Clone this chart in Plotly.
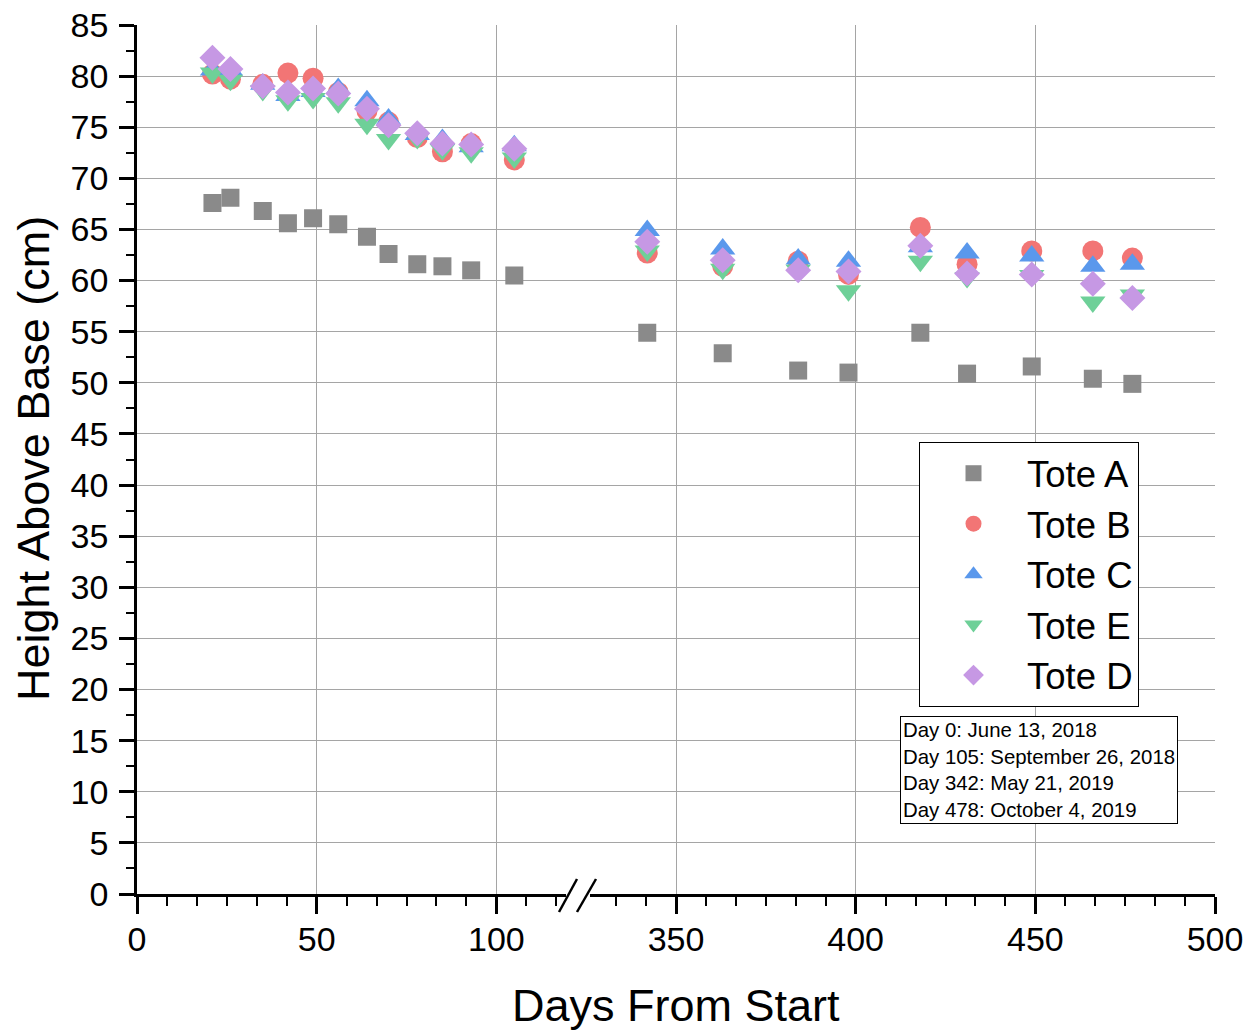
import plotly.graph_objects as go

# Measurement days (axis is broken between the two campaigns)
days_early = [21, 26, 35, 42, 49, 56, 64, 70, 78, 85, 93, 105]
days_late = [342, 363, 384, 398, 418, 431, 449, 466, 477]

# Height above base (cm) for each tote
tote_a_early = [67.6, 68.1, 66.8, 65.6, 66.1, 65.5, 64.3, 62.6, 61.6, 61.4, 61.0, 60.5]
tote_a_late = [54.9, 52.9, 51.2, 51.0, 54.9, 50.9, 51.6, 50.4, 49.9]

tote_b_early = [80.2, 79.7, 79.2, 80.3, 79.8, 78.4, 76.6, 75.5, 74.0, 72.6, 73.4, 71.8]
tote_b_late = [62.7, 61.4, 61.9, 60.6, 65.2, 61.6, 62.9, 62.9, 62.2]

tote_c_early = [80.6, 80.6, 79.2, 78.1, 78.5, 78.8, 77.6, 75.8, 74.3, 73.8, 73.1, 73.2]
tote_c_late = [64.9, 63.1, 62.1, 61.9, 63.3, 62.7, 62.4, 61.4, 61.6]

tote_e_early = [80.3, 79.6, 78.6, 77.6, 77.8, 77.4, 75.3, 73.8, 73.9, 72.8, 72.5, 72.0]
tote_e_late = [62.9, 61.1, 61.0, 59.0, 61.9, 60.3, 60.5, 57.9, 58.6]

tote_d_early = [81.8, 80.7, 79.0, 78.4, 78.8, 78.3, 76.8, 75.2, 74.4, 73.4, 73.3, 72.9]
tote_d_late = [63.8, 62.0, 61.0, 60.9, 63.4, 60.7, 60.6, 59.7, 58.3]

x_ticks_early = [0, 50, 100]
x_ticks_late = [350, 400, 450, 500]

date_notes = [
    "Day 0: June 13, 2018",
    "Day 105: September 26, 2018",
    "Day 342: May 21, 2019",
    "Day 478: October 4, 2019",
]

FONT = "Arial, 'Liberation Sans', sans-serif"

series = [
    ("Tote A", tote_a_early, tote_a_late, "square", 18, "rgb(138,138,138)"),
    ("Tote B", tote_b_early, tote_b_late, "circle", 21, "rgb(242,117,117)"),
    ("Tote C", tote_c_early, tote_c_late, "triangle-up", 22, "rgb(90,152,236)"),
    ("Tote E", tote_e_early, tote_e_late, "triangle-down", 22, "rgb(110,208,152)"),
    ("Tote D", tote_d_early, tote_d_late, "diamond", 20, "rgb(198,152,228)"),
]

fig = go.Figure()
for name, early, late, symbol, size, color in series:
    marker = dict(symbol=symbol, size=size, color=color, line=dict(width=0))
    fig.add_trace(go.Scatter(x=days_early, y=early, mode="markers", name=name,
                             legendgroup=name, marker=marker, xaxis="x", yaxis="y"))
    fig.add_trace(go.Scatter(x=days_late, y=late, mode="markers", name=name,
                             legendgroup=name, showlegend=False, marker=marker,
                             xaxis="x2", yaxis="y"))

# Plot-area geometry (pixels) for placing the break marks and labels
L, R, T, B = 137, 1215, 25, 894
W, H = R - L, B - T
left_span, right_span = (0, 121), (321, 500)
split = (left_span[1] - left_span[0]) / ((left_span[1] - left_span[0]) + (right_span[1] - right_span[0]))


def px(xp):
    return (xp - L) / W


def py(yp):
    return (B - yp) / H


common_x = dict(
    showline=True, linecolor="black", linewidth=2.5,
    ticks="outside", ticklen=17, tickwidth=2.5, tickcolor="black",
    ticklabelstandoff=-4,
    showgrid=True, gridcolor="rgb(165,165,165)", gridwidth=1,
    zeroline=False, anchor="y", automargin=False,
    tickfont=dict(family=FONT, size=34, color="black"),
    minor=dict(dtick=50 / 6, tick0=0, ticks="outside", ticklen=9, tickwidth=2,
               tickcolor="black", showgrid=False),
)

fig.update_layout(
    template="none",
    width=1257, height=1030,
    margin=dict(l=L, r=1257 - R, t=T, b=1030 - B, autoexpand=False),
    paper_bgcolor="white", plot_bgcolor="white",
    font=dict(family=FONT, color="black"),
    xaxis=dict(domain=[0, split], range=list(left_span), tickmode="array",
               tickvals=x_ticks_early, **common_x),
    xaxis2=dict(domain=[split, 1], range=list(right_span), tickmode="array",
                tickvals=x_ticks_late, **common_x),
    yaxis=dict(
        range=[0, 85], dtick=5, tick0=0, anchor="x", automargin=False,
        showline=True, linecolor="black", linewidth=2.5,
        ticks="outside", ticklen=15, tickwidth=2.5, tickcolor="black",
        ticklabelstandoff=4,
        showgrid=True, gridcolor="rgb(165,165,165)", gridwidth=1, zeroline=False,
        tickfont=dict(family=FONT, size=34, color="black"),
        minor=dict(dtick=2.5, tick0=0, ticks="outside", ticklen=8, tickwidth=2,
                   tickcolor="black", showgrid=False),
    ),
    legend=dict(
        x=px(919), y=py(442), xanchor="left", yanchor="top",
        bgcolor="white", bordercolor="black", borderwidth=1,
        tracegroupgap=0, itemwidth=97,
        font=dict(family=FONT, size=36.5, color="black"),
    ),
    showlegend=True,
)

# Axis titles
fig.add_annotation(text="Days From Start", xref="paper", yref="paper",
                   x=0.5, y=py(1005), xanchor="center", yanchor="middle",
                   showarrow=False, font=dict(family=FONT, size=45, color="black"))
fig.add_annotation(text="Height Above Base (cm)", xref="paper", yref="paper",
                   x=px(33), y=py(459), xanchor="center", yanchor="middle",
                   textangle=-90, showarrow=False,
                   font=dict(family=FONT, size=45, color="black"))

# Key dates box
fig.add_annotation(text="<br>".join(date_notes), xref="paper", yref="paper",
                   x=px(900), y=py(716), xanchor="left", yanchor="top",
                   align="left", showarrow=False, bgcolor="white",
                   bordercolor="black", borderwidth=1, borderpad=2,
                   font=dict(family=FONT, size=20.4, color="black"))

# Axis break: blank the axis line and draw the double slash
fig.add_shape(type="rect", xref="paper", yref="paper",
              x0=px(566), x1=px(590), y0=py(888), y1=py(906),
              fillcolor="white", line=dict(width=0), layer="above")
for (x0, y0, x1, y1) in [(559, 912, 577, 879), (577, 912, 596, 879)]:
    fig.add_shape(type="line", xref="paper", yref="paper",
                  x0=px(x0), y0=py(y0), x1=px(x1), y1=py(y1),
                  line=dict(color="black", width=2.5), layer="above")

fig.write_html("out.html")
